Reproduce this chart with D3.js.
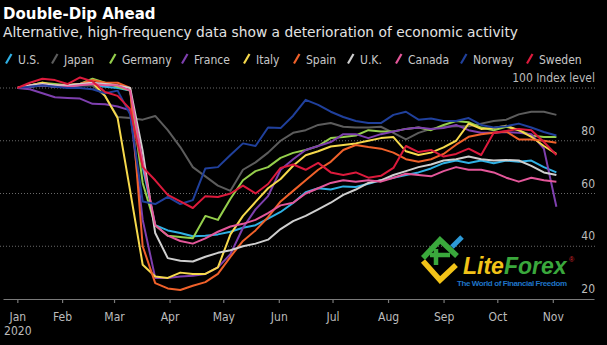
<!DOCTYPE html>
<html>
<head>
<meta charset="utf-8">
<script src="https://cdn.jsdelivr.net/npm/d3@7"></script>
<style>
    html, body { margin: 0; padding: 0; background: #000; }
    svg { display: block; }
    .title { font-family: "DejaVu Sans", sans-serif; font-weight: bold; font-size: 15px; fill: #fff; }
    .subtitle { font-family: "DejaVu Sans", sans-serif; font-size: 13.8px; fill: #e3e3e3; }
    .small { font-family: "DejaVu Sans Condensed", "DejaVu Sans", sans-serif; font-stretch: condensed; font-size: 12px; fill: #bcbcbc; }
</style>
</head>
<body>
<div id="vis"></div>
<script>

// Data ------------------------------------------------------------------------

// Weekly readings, first week starting 7 Jan 2020
const START = new Date(2020, 0, 7);

const COUNTRIES = ["U.S.", "Japan", "Germany", "France", "Italy",
    "Spain", "U.K.", "Canada", "Norway", "Sweden"];

const US = [100, 100.5, 101, 100.5, 100.5, 101, 101, 100.5, 100, 99, 70, 48,
    46, 45, 43.8, 44, 44.5, 45.5, 47, 48, 50.5, 53, 56.4, 60.5, 62, 61.5, 62.7,
    62.5, 63.7, 65, 66, 67, 68, 69.5, 71.5, 72.5, 71.6, 72.5, 71.5, 72.5, 72,
    72.5, 70, 68];
const JAPAN = [100, 101, 101.5, 101, 101, 101, 101, 97, 89, 88.6, 88, 89.4,
    84, 77.6, 70, 66.5, 63, 61, 69, 71.8, 75.5, 80, 83, 84, 86, 86.7, 85.3, 85,
    85, 85.3, 83, 80.5, 83, 84.5, 85.3, 85.5, 85.5, 86.5, 87.5, 88, 90, 91, 91,
    89.8];
const GERMANY = [100, 101, 102, 101.5, 101, 101.5, 103.5, 102, 100.5, 99, 64,
    48, 44, 43.5, 43, 51.5, 50, 58, 65, 68.5, 70, 73.5, 75.4, 76.5, 78, 81,
    81.4, 82, 84, 83.5, 83.5, 84.5, 85, 84, 86, 87.5, 87, 85, 84, 85.3, 84, 82,
    81.4, 81.4];
const FRANCE = [100, 99.5, 98, 96.5, 96.2, 96, 94, 93.8, 93, 91.5, 50, 28, 28,
    28.5, 28.8, 29.5, 32, 37, 47, 54, 59, 69, 73, 76.5, 78, 79.5, 82.5, 82.5,
    81, 82.5, 83.5, 84.5, 85, 84.5, 84.8, 86, 84, 83, 83, 83.3, 83, 82.5, 77,
    55];
const ITALY = [100, 101, 102, 101, 101, 101.5, 102, 97, 88.6, 61, 33, 28.5,
    28, 30, 29.5, 29.5, 32, 44.5, 51.5, 56.8, 62, 65.5, 70.5, 74.5, 76, 77.8,
    78.4, 79, 80, 81, 81.4, 76, 74.6, 75.5, 77.5, 80, 86.5, 84.5, 84.8, 85.7,
    84, 81.5, 78, 75];
const SPAIN = [100, 101, 101.5, 101, 101, 101.5, 103, 102, 102, 100, 40, 26,
    24, 23.4, 25, 26.4, 29.5, 36, 42, 46, 51, 57, 61, 65, 69, 72, 76.5, 78.4,
    77.6, 77, 75.5, 73, 72, 73, 75, 78.5, 81.5, 82.5, 83, 83.5, 80.5, 80.5, 80,
    79.2];
const UK = [100, 101, 101.5, 101, 101, 101.5, 102, 101.5, 101, 100, 76, 45,
    35.5, 34.5, 34.2, 36, 37.5, 38.5, 40, 41, 42.5, 46.5, 49.5, 51.5, 54, 56.5,
    59.5, 61.5, 64, 65, 67, 68.5, 70, 71, 72.5, 73, 74, 73, 72.5, 72.7, 72.5,
    70.5, 68, 67];
const CANADA = [100, 100.5, 101, 100.5, 100.5, 101, 101.5, 101, 101, 99, 72,
    48, 44, 42, 41, 43, 45.5, 47.5, 48.5, 50, 52.6, 55.5, 56.5, 60, 62, 64, 65,
    64.5, 65, 64.5, 66, 67.5, 67, 66.5, 68.5, 70, 69, 69, 68, 66, 64.5, 66, 65,
    64.5];
const NORWAY = [100, 100.5, 101, 100.5, 100, 100, 99.5, 98, 99, 90, 57, 56,
    58.7, 56, 57.5, 69.5, 70, 74.6, 79, 78, 85, 84.8, 89.5, 95.5, 93.6, 91, 89,
    87.5, 86.7, 86.7, 89.8, 91, 88, 88.4, 87.5, 87.5, 88.6, 86, 85, 85.5, 86.5,
    85, 83.3, 82];
const SWEDEN = [100, 102, 103.5, 103, 101.5, 104, 102.5, 98.5, 97, 92, 70,
    65, 59.5, 57, 54.5, 59, 58.7, 60, 63, 60, 63.6, 69.7, 71, 69, 71.6, 68, 67,
    68, 66, 66.7, 69.7, 78, 75.7, 76.5, 74, 75, 77, 74.6, 83, 83.7, 84.5, 84,
    79.5, 74.6];

const VALUES = [US, JAPAN, GERMANY, FRANCE, ITALY, SPAIN, UK, CANADA, NORWAY, SWEDEN];

const Y_TICKS = [20, 40, 60, 80, 100];
const MONTHS = [1, 2, 3, 4, 5, 6, 7, 8, 9, 10];

// Styling ---------------------------------------------------------------------

const COLOURS = ["#2fb0e4", "#5c5c5c", "#95cf4c", "#7e3fae", "#f6d94c",
    "#f0612a", "#cfcfcf", "#e4579a", "#20409c", "#dc1a3c"];

// x position of each legend label, slash sits just before it
const LEGEND_X = [18, 64, 122, 194, 256, 306, 360, 408, 473, 539];

// Build -----------------------------------------------------------------------

const width = 607;
const height = 345;

const svg = d3.select("#vis")
    .append("svg")
    .attr("width", width)
    .attr("height", height);

svg.append("rect")
    .attr("width", width)
    .attr("height", height)
    .attr("fill", "#000");

// Titles
svg.append("text")
    .attr("class", "title")
    .attr("x", 3)
    .attr("y", 19)
    .text("Double-Dip Ahead");

svg.append("text")
    .attr("class", "subtitle")
    .attr("x", 3)
    .attr("y", 37)
    .text("Alternative, high-frequency data show a deterioration of economic activity");

// Legend
const legend = svg.selectAll(".legend")
    .data(COUNTRIES)
    .enter()
    .append("g")
    .attr("class", "legend")
    .attr("transform", (d, i) => `translate(${LEGEND_X[i]},63.5)`);

legend.append("line")
    .attr("x1", -12).attr("y1", 0)
    .attr("x2", -6.5).attr("y2", -9.5)
    .attr("stroke", (d, i) => COLOURS[i])
    .attr("stroke-width", 2.2);

legend.append("text")
    .attr("class", "small")
    .style("fill", "#c8c8c8")
    .text(d => d);

// Scales
const dates = US.map((d, i) => d3.timeDay.offset(START, 7 * i));

const xscale = d3.scaleTime()
    .domain([new Date(2019, 11, 30), new Date(2020, 10, 24)])
    .range([3, 594]);

const yscale = d3.scaleLinear()
    .domain([20, 100])
    .range([299, 88]);

// Gridlines and y labels
svg.selectAll(".grid")
    .data(Y_TICKS.filter(d => d > 20))
    .enter()
    .append("line")
    .attr("class", "grid")
    .attr("x1", 0)
    .attr("x2", 595)
    .attr("y1", d => yscale(d))
    .attr("y2", d => yscale(d))
    .attr("stroke", "#6a6a6a")
    .attr("stroke-width", 1)
    .attr("stroke-dasharray", "1,2");

svg.selectAll(".ylabel")
    .data(Y_TICKS)
    .enter()
    .append("text")
    .attr("class", "small ylabel")
    .attr("x", 595)
    .attr("y", d => yscale(d) - 6)
    .attr("text-anchor", "end")
    .text(d => d == 100 ? "100 Index level" : d);

// X axis
const tickDates = [START].concat(MONTHS.map(m => new Date(2020, m, 1)));

const xaxis = d3.axisBottom(xscale)
    .tickValues(tickDates)
    .tickSizeInner(4)
    .tickSizeOuter(0)
    .tickFormat(d3.timeFormat("%b"));

const gx = svg.append("g")
    .attr("transform", "translate(0,299)")
    .call(xaxis);

gx.select(".domain").attr("stroke", "#7a7a7a").attr("stroke-width", 1.2);
gx.selectAll(".tick line").attr("stroke", "#7a7a7a").attr("stroke-width", 1.2);
gx.selectAll(".tick text")
    .attr("class", "small")
    .attr("y", 13)
    .attr("fill", null);

gx.select(".tick text")
    .append("tspan")
    .attr("x", 0)
    .attr("dy", "1.2em")
    .text("2020");

// Logo watermark
const logo = svg.append("g").attr("class", "logo");

logo.append("polyline")
    .attr("points", "423,261 440,280 456,265")
    .attr("fill", "none")
    .attr("stroke", "#f2c318")
    .attr("stroke-width", 5.5);

logo.append("polyline")
    .attr("points", "423,258 440,240 457,256")
    .attr("fill", "none")
    .attr("stroke", "#3aa83c")
    .attr("stroke-width", 5.5);

logo.append("path")
    .attr("d", "M436,249 L436,265 M430,255 L450,255")
    .attr("stroke", "#3aa83c")
    .attr("stroke-width", 4.5);

logo.append("line")
    .attr("x1", 452).attr("y1", 247)
    .attr("x2", 462).attr("y2", 237)
    .attr("stroke", "#2d9ad8")
    .attr("stroke-width", 5);

const brand = logo.append("text")
    .attr("x", 463)
    .attr("y", 273.5)
    .style("font-family", "Liberation Sans, sans-serif")
    .style("font-weight", "bold")
    .style("font-style", "italic")
    .style("font-size", "23px");

brand.append("tspan").attr("fill", "#f2c318").text("Lite");
brand.append("tspan").attr("fill", "#3aa83c").text("Forex");

logo.append("text")
    .attr("x", 569)
    .attr("y", 262)
    .attr("fill", "#d8262e")
    .style("font-family", "Liberation Sans, sans-serif")
    .style("font-size", "7px")
    .text("®");

logo.append("text")
    .attr("x", 457)
    .attr("y", 286)
    .attr("fill", "#1f74c6")
    .attr("textLength", 110)
    .style("font-family", "Liberation Sans, sans-serif")
    .style("font-weight", "bold")
    .style("font-size", "8px")
    .text("The World of Financial Freedom");

// Lines
const line = d3.line()
    .x((d, i) => xscale(dates[i]))
    .y(d => yscale(d));

svg.selectAll(".series")
    .data(VALUES)
    .enter()
    .append("path")
    .attr("class", "series")
    .attr("fill", "none")
    .attr("stroke", (d, i) => COLOURS[i])
    .attr("stroke-width", 2)
    .attr("stroke-linejoin", "round")
    .attr("d", line);

</script>
</body>
</html>
